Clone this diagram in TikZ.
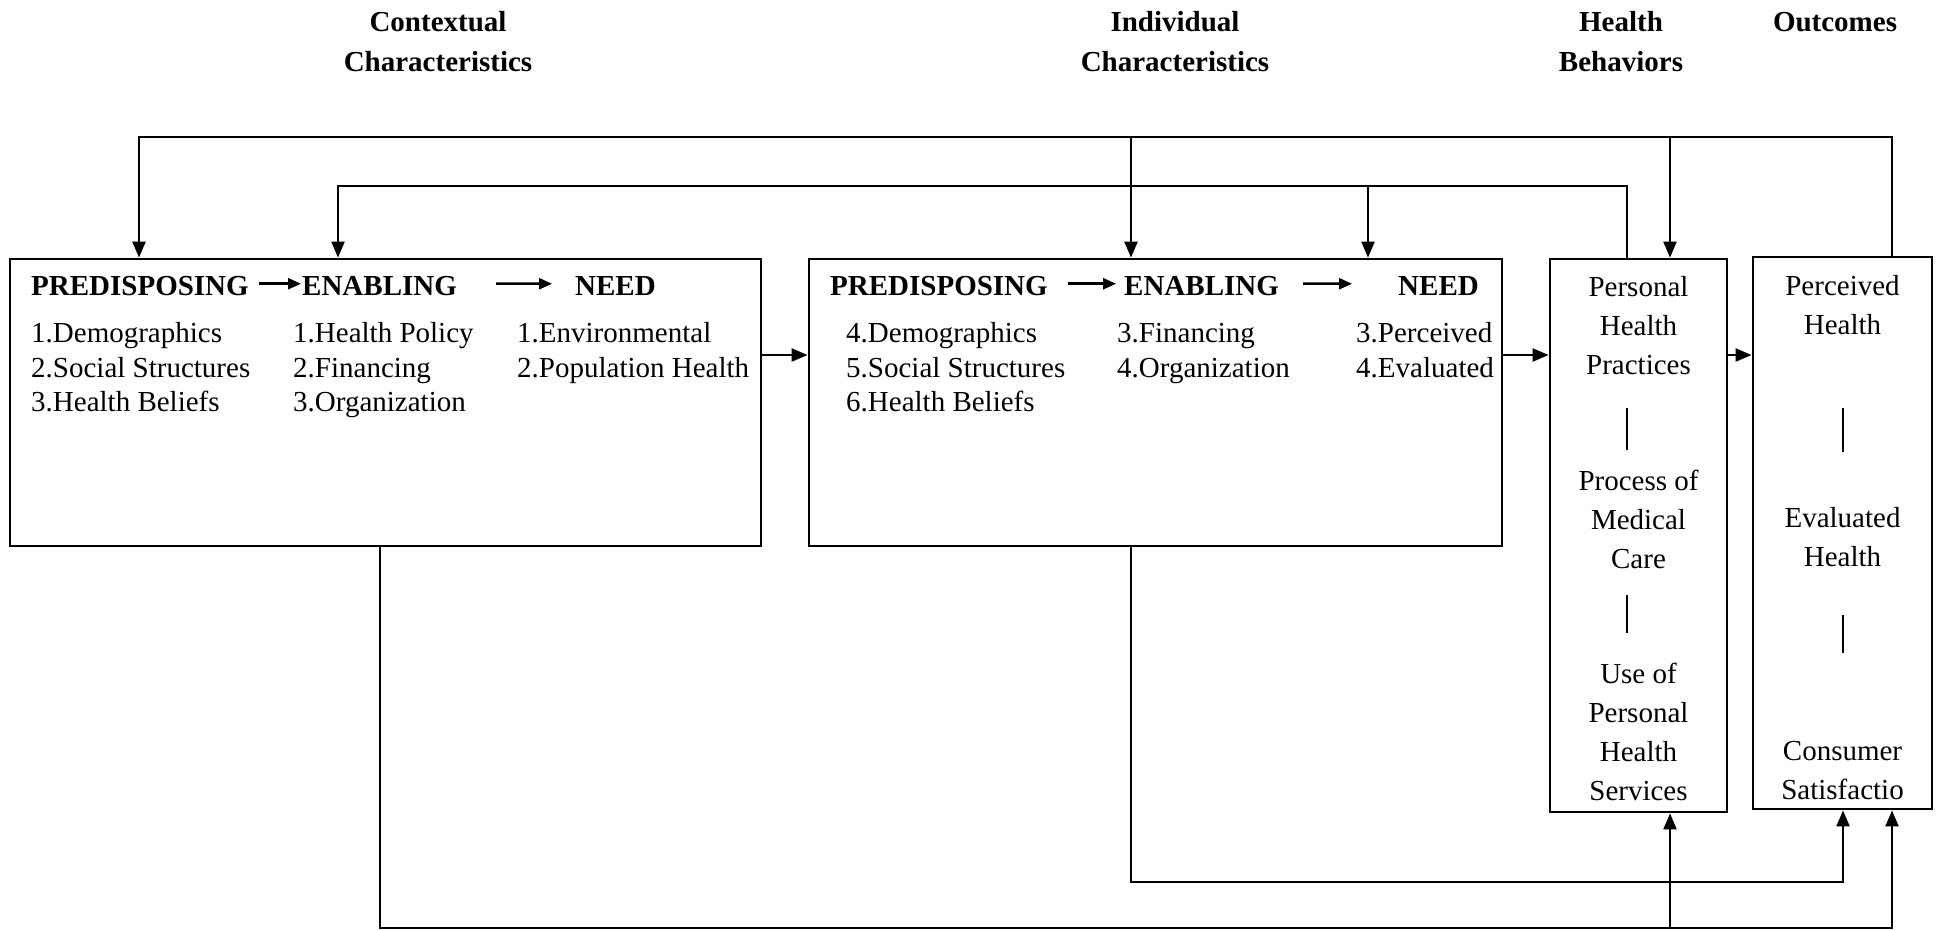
\documentclass[tikz,border=0pt]{standalone}
\usepackage{fontspec}
\setmainfont{Liberation Serif}
\usetikzlibrary{arrows.meta}

\begin{document}
\begin{tikzpicture}[x=1pt,y=-1pt,
  box/.style={draw, line width=2.8pt, inner sep=0pt},
  conn/.style={line width=2.2pt, -{Triangle[length=16pt,width=13pt]}},
  harrow/.style={line width=2.5pt, -{Triangle[length=13pt,width=11pt]}},
  sep/.style={line width=2pt},
  title/.style={font=\bfseries\fontsize{29}{40}\selectfont, align=center, anchor=north, inner sep=0pt},
  head/.style={font=\bfseries\fontsize{29}{34}\selectfont, anchor=base west, inner sep=0pt},
  items/.style={font=\fontsize{29}{34.2}\selectfont, align=left, anchor=north west, inner sep=0pt},
  stack/.style={font=\fontsize{29}{39}\selectfont, align=center, anchor=north, inner sep=0pt},
]
\useasboundingbox (0,0) rectangle (1940,930);

% column titles
\node[title] (t1) at (438,3) {\strut Contextual\\Characteristics};
\node[title] (t2) at (1175,3) {\strut Individual\\Characteristics};
\node[title] (t3) at (1621,3) {\strut Health\\Behaviors};
\node[title] (t4) at (1835,3) {\strut Outcomes};

% main boxes
\node[box, minimum width=751pt, minimum height=287pt] (ctx) at (385.5,402.5) {};
\node[box, minimum width=693pt, minimum height=287pt] (ind) at (1155.5,402.5) {};
\node[box, minimum width=177pt, minimum height=553pt] (beh) at (1638.5,535.5) {};
\node[box, minimum width=179pt, minimum height=552pt] (out) at (1842.5,533) {};

% contextual characteristics
\node[head] (p1) at (31,295.5) {PREDISPOSING};
\node[head] (e1) at (302,295.5) {ENABLING};
\node[head] (n1) at (575,295.5) {NEED};
\draw[harrow, shorten <=10pt, shorten >=1pt] ([yshift=2.3pt]p1.east) -- ([yshift=2.3pt]e1.west);
\draw[harrow, shorten <=39pt, shorten >=23pt] ([yshift=2.3pt]e1.east) -- ([yshift=2.3pt]n1.west);
\node[items] (l1a) at (31,318.8) {\strut 1.Demographics\\2.Social Structures\\3.Health Beliefs};
\node[items] (l1b) at (293,318.8) {\strut 1.Health Policy\\2.Financing\\3.Organization};
\node[items] (l1c) at (517,318.8) {\strut 1.Environmental\\2.Population Health};

% individual characteristics
\node[head] (p2) at (830,295.5) {PREDISPOSING};
\node[head] (e2) at (1124,295.5) {ENABLING};
\node[head] (n2) at (1398,295.5) {NEED};
\draw[harrow, shorten <=20.5pt, shorten >=8pt] ([yshift=2.3pt]p2.east) -- ([yshift=2.3pt]e2.west);
\draw[harrow, shorten <=24pt, shorten >=46pt] ([yshift=2.3pt]e2.east) -- ([yshift=2.3pt]n2.west);
\node[items] (l2a) at (846,318.8) {\strut 4.Demographics\\5.Social Structures\\6.Health Beliefs};
\node[items] (l2b) at (1117,318.8) {\strut 3.Financing\\4.Organization};
\node[items] (l2c) at (1356,318.8) {\strut 3.Perceived\\4.Evaluated};

% health behaviors
\node[stack] (b1) at (1638.5,269) {\strut Personal\\Health\\Practices};
\node[stack] (b2) at (1638.5,463) {\strut Process of\\Medical\\Care};
\node[stack] (b3) at (1638.5,656) {\strut Use of\\Personal\\Health\\Services};
\draw[sep] (1627,408) -- (1627,450);
\draw[sep] (1627,595) -- (1627,633);

% outcomes
\node[stack] (o1) at (1842.5,267.7) {\strut Perceived\\Health};
\node[stack] (o2) at (1842.5,500.3) {\strut Evaluated\\Health};
\node[stack] (o3) at (1842.5,733.3) {\strut Consumer\\Satisfactio};
\draw[sep] (1843,408) -- (1843,452);
\draw[sep] (1843,615) -- (1843,653);

% rails and columns of the connectors
\coordinate (r1) at (0,137);
\coordinate (r2) at (0,186);
\coordinate (r3) at (0,882);
\coordinate (r4) at (0,928);
\coordinate (mid) at (0,355);
\coordinate (xa) at (139,0);
\coordinate (xb) at (338,0);
\coordinate (xc) at (1131,0);
\coordinate (xd) at (1368,0);
\coordinate (xe) at (1670,0);
\coordinate (xf) at (1627,0);
\coordinate (xg) at (1892,0);
\coordinate (xh) at (1843,0);
\coordinate (xi) at (380,0);

% feedback from outcomes
\draw[conn] (out.north -| xg) -- (xg |- r1) -- (xa |- r1) -- (ctx.north -| xa);
\draw[conn] (xc |- r1) -- (ind.north -| xc);
\draw[conn] (xe |- r1) -- (beh.north -| xe);

% feedback from health behaviors
\draw[conn] (beh.north -| xf) -- (xf |- r2) -- (xb |- r2) -- (ctx.north -| xb);
\draw[conn] (xd |- r2) -- (ind.north -| xd);

% forward flow
\draw[conn] (ctx.east |- mid) -- (ind.west |- mid);
\draw[conn] (ind.east |- mid) -- (beh.west |- mid);
\draw[conn] (beh.east |- mid) -- (out.west |- mid);

% direct paths along the bottom
\draw[conn] (ctx.south -| xi) -- (xi |- r4) -- (xg |- r4) -- (out.south -| xg);
\draw[conn] (xe |- r4) -- (beh.south -| xe);
\draw[conn] (ind.south -| xc) -- (xc |- r3) -- (xh |- r3) -- (out.south -| xh);
\end{tikzpicture}
\end{document}
